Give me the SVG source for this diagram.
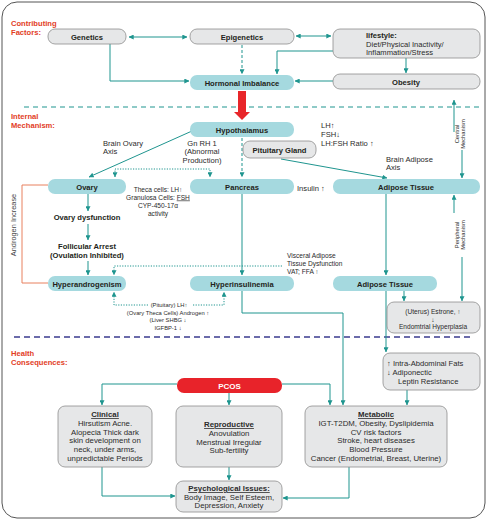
<svg xmlns="http://www.w3.org/2000/svg" width="487" height="520" viewBox="0 0 487 520">
<defs>
<marker id="a" viewBox="0 0 8 8" refX="7.5" refY="4" markerWidth="5" markerHeight="5" markerUnits="userSpaceOnUse" orient="auto-start-reverse"><path d="M0,0 L8,4 L0,8 z" fill="#1f958f"/></marker>
<style>
text{font-family:"Liberation Sans",Arial,sans-serif;fill:#2b2b2b}
.t{fill:#a5d9df}
.g{fill:#e6e7e8;stroke:#8e8e8e;stroke-width:0.8}
.b{font-weight:bold;font-size:7.6px;text-anchor:middle;fill:#231f20}
.r{font-size:7.6px}
.c{text-anchor:middle}
.s{font-size:6.6px}
.xs{font-size:5.8px}
.sec{font-weight:bold;font-size:7.6px;fill:#e2401f}
.ln{fill:none;stroke:#1f958f;stroke-width:1}
.dash{stroke-dasharray:3 2}
.dot{stroke-dasharray:1.2 1.4}
.h{font-size:7.8px;text-anchor:middle}
.u{font-weight:bold;text-decoration:underline}
</style>
</defs>
<rect x="2" y="2" width="483" height="516" rx="15" fill="#fff" stroke="#555" stroke-width="1"/>

<g id="section-labels">
<text class="sec" x="11" y="26">Contributing</text>
<text class="sec" x="11" y="35">Factors:</text>
<text class="sec" x="11" y="119">Internal</text>
<text class="sec" x="11" y="128">Mechanism:</text>
<text class="sec" x="11" y="356">Health</text>
<text class="sec" x="11" y="365">Consequences:</text>
</g>

<g id="separators">
<line x1="24" y1="107" x2="481" y2="107" stroke="#1f958f" stroke-width="1" stroke-dasharray="5 4"/>
<line x1="14" y1="337" x2="472" y2="337" stroke="#3b3b8e" stroke-width="1.3" stroke-dasharray="6 4"/>
</g>

<g id="connectors">
<path class="ln" d="M129,37 H187" marker-start="url(#a)" marker-end="url(#a)"/>
<path class="ln" d="M296,36 H331" marker-start="url(#a)" marker-end="url(#a)"/>
<path class="ln dash" d="M242,45 V74" marker-end="url(#a)"/>
<path class="ln" d="M333,51 H277 V74" marker-end="url(#a)"/>
<path class="ln" d="M110,44 V81 H189" marker-end="url(#a)"/>
<path class="ln" d="M406,58 V73" marker-end="url(#a)"/>
<path class="ln" d="M333,81 H295" marker-end="url(#a)"/>
<path d="M238,91 H246 V112 H250 L242,120 L234,112 H238 Z" fill="#e8262a"/>
<path class="ln" d="M192,131 L89,177" marker-end="url(#a)"/>
<path class="ln" d="M281,159 L387,178" marker-end="url(#a)"/>
<path class="ln dash" d="M242,138 V177" marker-end="url(#a)"/>
<path class="ln dot" d="M115,177 V169 H210 V177" marker-start="url(#a)" marker-end="url(#a)"/>
<path class="ln" d="M454,132 V100" marker-end="url(#a)"/>
<path class="ln" d="M462,150 V178" marker-end="url(#a)"/>
<path class="ln" d="M454,213 V195" marker-end="url(#a)"/>
<path class="ln" d="M462,257 V301" marker-end="url(#a)"/>
<path class="ln" d="M88,194 V211" marker-end="url(#a)"/>
<path class="ln" d="M88,224 V240" marker-end="url(#a)"/>
<path class="ln" d="M88,261 V275" marker-end="url(#a)"/>
<path fill="none" stroke="#e8805f" stroke-width="1" d="M48,185 H22 V283 H48"/>
<path class="ln dot" d="M282,266 H114 V275" marker-end="url(#a)"/>
<path class="ln dot" d="M148,305 H114 V292" marker-end="url(#a)"/>
<path class="ln dot" d="M193,305 H224 V292" marker-end="url(#a)"/>
<path class="ln" d="M242,194 V275" marker-end="url(#a)"/>
<path class="ln" d="M386,194 V275" marker-end="url(#a)"/>
<path class="ln" d="M386,291 V352" marker-end="url(#a)"/>
<path class="ln" d="M404,291 V301" marker-end="url(#a)"/>
<path class="ln" d="M242,291 V313 H343 V405" marker-end="url(#a)"/>
<path class="ln" d="M407,390 V405" marker-end="url(#a)"/>
<path class="ln" d="M177,384 H102 V405" marker-end="url(#a)"/>
<path class="ln" d="M282,384 H330 V405" marker-end="url(#a)"/>
<path class="ln" d="M229,393 V405" marker-end="url(#a)"/>
<path class="ln" d="M229,467 V480" marker-end="url(#a)"/>
<path class="ln" d="M102,467 V496 H175" marker-end="url(#a)"/>
<path class="ln" d="M349,467 V498 H283" marker-end="url(#a)"/>
</g>

<g id="genetics"><rect class="g" x="48" y="29" width="78" height="15" rx="7"/><text class="b" x="87" y="39.5">Genetics</text></g>
<g id="epigenetics"><rect class="g" x="190" y="29" width="104" height="15" rx="7"/><text class="b" x="242" y="39.5">Epigenetics</text></g>
<g id="lifestyle"><rect class="g" x="333" y="29" width="147" height="29" rx="7"/>
<text x="366" y="38" style="font-weight:bold;font-size:7.6px;fill:#231f20">lifestyle:</text>
<text class="r" x="366" y="46.5">Diet/Physical Inactivity/</text>
<text class="r" x="366" y="55">Inflammation/Stress</text></g>
<g id="hormonal"><rect class="t" x="190" y="75" width="104" height="15" rx="7"/><text class="b" x="242" y="85.5">Hormonal Imbalance</text></g>
<g id="obesity"><rect class="g" x="333" y="74" width="147" height="15" rx="7"/><text class="b" x="406" y="84.5">Obesity</text></g>

<g id="hypothalamus"><rect class="t" x="190" y="122" width="104" height="15" rx="7"/><text class="b" x="242" y="132.5">Hypothalamus</text></g>
<g id="hormone-text">
<text class="r" x="321" y="127.5">LH↑</text>
<text class="r" x="321" y="136.5">FSH↓</text>
<text class="r" x="321" y="145.5">LH:FSH Ratio ↑</text>
</g>
<g id="pituitary"><rect class="g" x="243" y="141" width="73" height="17" rx="7"/><text class="b" x="279.5" y="152.5">Pituitary Gland</text></g>
<g id="labels-mid">
<text class="r c" x="202" y="145.5">Gn RH 1</text>
<text class="r c" x="202" y="154">(Abnormal</text>
<text class="r c" x="202" y="162.5">Production)</text>
<text class="r" x="103" y="145.5">Brain Ovary</text>
<text class="r" x="103" y="154">Axis</text>
<text class="r" x="386" y="161.5">Brain Adipose</text>
<text class="r" x="386" y="170">Axis</text>
<text class="r" x="297" y="191">Insulin ↑</text>
<text class="s c" x="158" y="191.5">Theca cells: LH↑</text>
<text class="s c" x="158" y="199.5">Granulosa Cells: <tspan text-decoration="underline">FSH</tspan></text>
<text class="s c" x="158" y="207.5">CYP-450-17α</text>
<text class="s c" x="158" y="215.5">activity</text>
<text class="xs" x="459" y="134" text-anchor="middle" transform="rotate(-90 459 134)">Central</text>
<text class="xs" x="465" y="134" text-anchor="middle" transform="rotate(-90 465 134)">Mechanism</text>
<text class="xs" x="459" y="235" text-anchor="middle" transform="rotate(-90 459 235)">Peripheral</text>
<text class="xs" x="465" y="235" text-anchor="middle" transform="rotate(-90 465 235)">Mechanism</text>
<text x="16" y="225" text-anchor="middle" transform="rotate(-90 16 225)" style="font-size:7.4px;fill:#444">Androgen Increase</text>
<text class="s" x="287" y="258">Visceral Adipose</text>
<text class="s" x="287" y="266">Tissue Dysfunction</text>
<text class="s" x="287" y="274">VAT; FFA ↑</text>
<text class="xs c" x="169" y="307">(Pituitary) LH↑</text>
<text class="xs c" x="168" y="314.5">(Ovary Theca Cells) Androgen ↑</text>
<text class="xs c" x="168" y="322">(Liver SHBG ↓</text>
<text class="xs c" x="168" y="329.5">IGFBP-1 ↓</text>
</g>
<g id="ovary"><rect class="t" x="48" y="179" width="78" height="15" rx="7"/><text class="b" x="87" y="189.5">Ovary</text></g>
<g id="pancreas"><rect class="t" x="190" y="179" width="104" height="15" rx="7"/><text class="b" x="242" y="189.5">Pancreas</text></g>
<g id="adipose-upper"><rect class="t" x="333" y="179" width="147" height="15" rx="7"/><text class="b" x="406" y="189.5">Adipose Tissue</text></g>
<g id="ovary-dysfunction"><text class="b" x="87" y="220">Ovary dysfunction</text></g>
<g id="follicular"><text class="b" x="87" y="249">Follicular Arrest</text><text class="b" x="87" y="258">(Ovulation Inhibited)</text></g>
<g id="hyperandrogenism"><rect class="t" x="48" y="276" width="78" height="15" rx="7"/><text class="b" x="87" y="286.5">Hyperandrogenism</text></g>
<g id="hyperinsulinemia"><rect class="t" x="190" y="276" width="104" height="15" rx="7"/><text class="b" x="242" y="286.5">Hyperinsulinemia</text></g>
<g id="adipose-lower"><rect class="t" x="333" y="276" width="104" height="15" rx="7"/><text class="b" x="385" y="286.5">Adipose Tissue</text></g>
<g id="estrone"><rect class="g" x="387" y="302" width="93" height="31" rx="7"/>
<text class="s c" x="433" y="314">(Uterus) Estrone, ↑</text>
<text class="s c" x="433" y="321.5">↓</text>
<text class="s c" x="433" y="329">Endomtrial Hyperplasia</text></g>
<g id="intra-abdominal"><rect class="g" x="383" y="353" width="97" height="37" rx="7"/>
<text class="r" x="387" y="365.5">↑ Intra-Abdominal Fats</text>
<text class="r" x="387" y="374.5">↓ Adiponectic</text>
<text class="r" x="398" y="383.5">Leptin Resistance</text></g>

<g id="pcos"><rect x="177" y="378" width="105" height="15" rx="7" fill="#e8232a"/><text x="229.5" y="388.5" text-anchor="middle" style="font-weight:bold;font-size:8px;fill:#fff">PCOS</text></g>
<g id="clinical"><rect class="g" x="58" y="406" width="94" height="61" rx="7"/>
<text class="h" x="105" y="417"><tspan class="u">Clinical</tspan></text>
<text class="h" x="105" y="426">Hirsutism Acne.</text>
<text class="h" x="105" y="434.5">Alopecia Thick dark</text>
<text class="h" x="105" y="443">skin development on</text>
<text class="h" x="105" y="452">neck, under arms,</text>
<text class="h" x="105" y="460.5">unpredictable Periods</text></g>
<g id="reproductive"><rect class="g" x="176" y="406" width="106" height="61" rx="7"/>
<text class="h" x="229" y="427"><tspan class="u">Reproductive</tspan></text>
<text class="h" x="229" y="436">Anovulation</text>
<text class="h" x="229" y="444.5">Menstrual Irregular</text>
<text class="h" x="229" y="453">Sub-fertility</text></g>
<g id="metabolic"><rect class="g" x="305" y="406" width="142" height="61" rx="7"/>
<text class="h" x="376" y="417"><tspan class="u">Metabolic</tspan></text>
<text class="h" x="376" y="426">IGT-T2DM, Obesity, Dyslipidemia</text>
<text class="h" x="376" y="434.5">CV risk factors</text>
<text class="h" x="376" y="443">Stroke, heart diseases</text>
<text class="h" x="376" y="452">Blood Pressure</text>
<text class="h" x="376" y="460.5">Cancer (Endometrial, Breast, Uterine)</text></g>
<g id="psychological"><rect class="g" x="176" y="481" width="106" height="31" rx="7"/>
<text class="h" x="229" y="491"><tspan class="u">Psychological Issues:</tspan></text>
<text class="h" x="229" y="499.5">Body Image, Self Esteem,</text>
<text class="h" x="229" y="508">Depression, Anxiety</text></g>
</svg>
